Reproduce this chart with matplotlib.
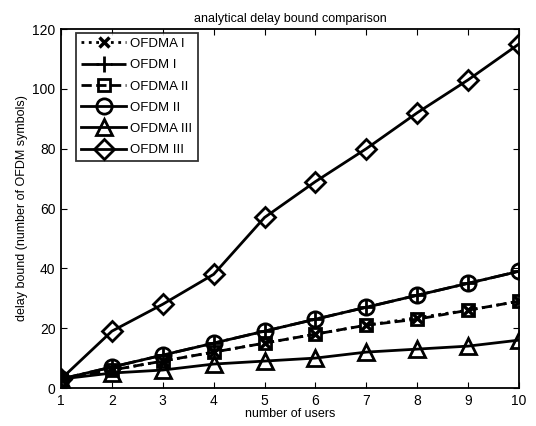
import matplotlib
matplotlib.use("Agg")
import matplotlib.pyplot as plt

plt.rcParams['font.family'] = ['Liberation Sans', 'DejaVu Sans']

users = [1, 2, 3, 4, 5, 6, 7, 8, 9, 10]
ofdma_1 = [3, 6, 9, 12, 15, 18, 21, 23.5, 26, 29]
ofdm_1 = [3, 7, 11, 15, 19, 23, 27, 31, 35, 39]
ofdma_2 = [3, 6, 9, 12, 15, 18, 21, 23, 26, 29]
ofdm_2 = [3, 7, 11, 15, 19, 23, 27, 31, 35, 39]
ofdma_3 = [3, 5, 6, 8, 9, 10, 12, 13, 14, 16]
ofdm_3 = [3, 19, 28, 38, 57, 69, 80, 92, 103, 115]

fig = plt.figure(figsize=(5.36, 4.26), dpi=100)
ax = fig.add_axes([61/536, 1 - 388/426, (519-61)/536, (388-29)/426])

lw = 2.0
ms = 11
kw = dict(color='black', lw=lw, markerfacecolor='none', markeredgecolor='black', markeredgewidth=lw, markersize=ms)
ax.plot(users, ofdma_1, linestyle=':', marker='x', label='OFDMA I', **{**kw, 'markersize': 7, 'markeredgewidth': 2.5})
ax.plot(users, ofdm_1, linestyle='-.', marker='+', label='OFDM I', **{**kw, 'markersize': 12})
ax.plot(users, ofdma_2, linestyle='--', marker='s', label='OFDMA II', **{**kw, 'markersize': 8})
ax.plot(users, ofdm_2, linestyle='-', marker='o', label='OFDM II', **kw)
ax.plot(users, ofdma_3, linestyle='-', marker='^', label='OFDMA III', **{**kw, 'markersize': 12})
ax.plot(users, ofdm_3, linestyle='-', marker='D', label='OFDM III', **{**kw, 'markersize': 10})

ax.set_xlim(1, 10)
ax.set_ylim(0, 120)
ax.set_xticks(users)
ax.set_yticks([0, 20, 40, 60, 80, 100, 120])
ax.tick_params(direction='in', labelsize=10, length=4, top=True, right=True, pad=4)
for s in ax.spines.values():
    s.set_linewidth(1.3)
ax.set_xlabel('number of users', fontsize=9, labelpad=0)
ax.set_ylabel('delay bound (number of OFDM symbols)', fontsize=9, labelpad=3)
ax.set_title('analytical delay bound comparison', fontsize=9, pad=5)

leg = ax.legend(loc='upper left', fontsize=9.5, frameon=True, fancybox=False,
                edgecolor='black', handlelength=3.4, borderpad=0.4, labelspacing=0.68,
                handletextpad=0.3, borderaxespad=0, bbox_to_anchor=(0.033, 0.99))
leg.get_frame().set_linewidth(1.3)

fig.savefig('out.png', dpi=100)
